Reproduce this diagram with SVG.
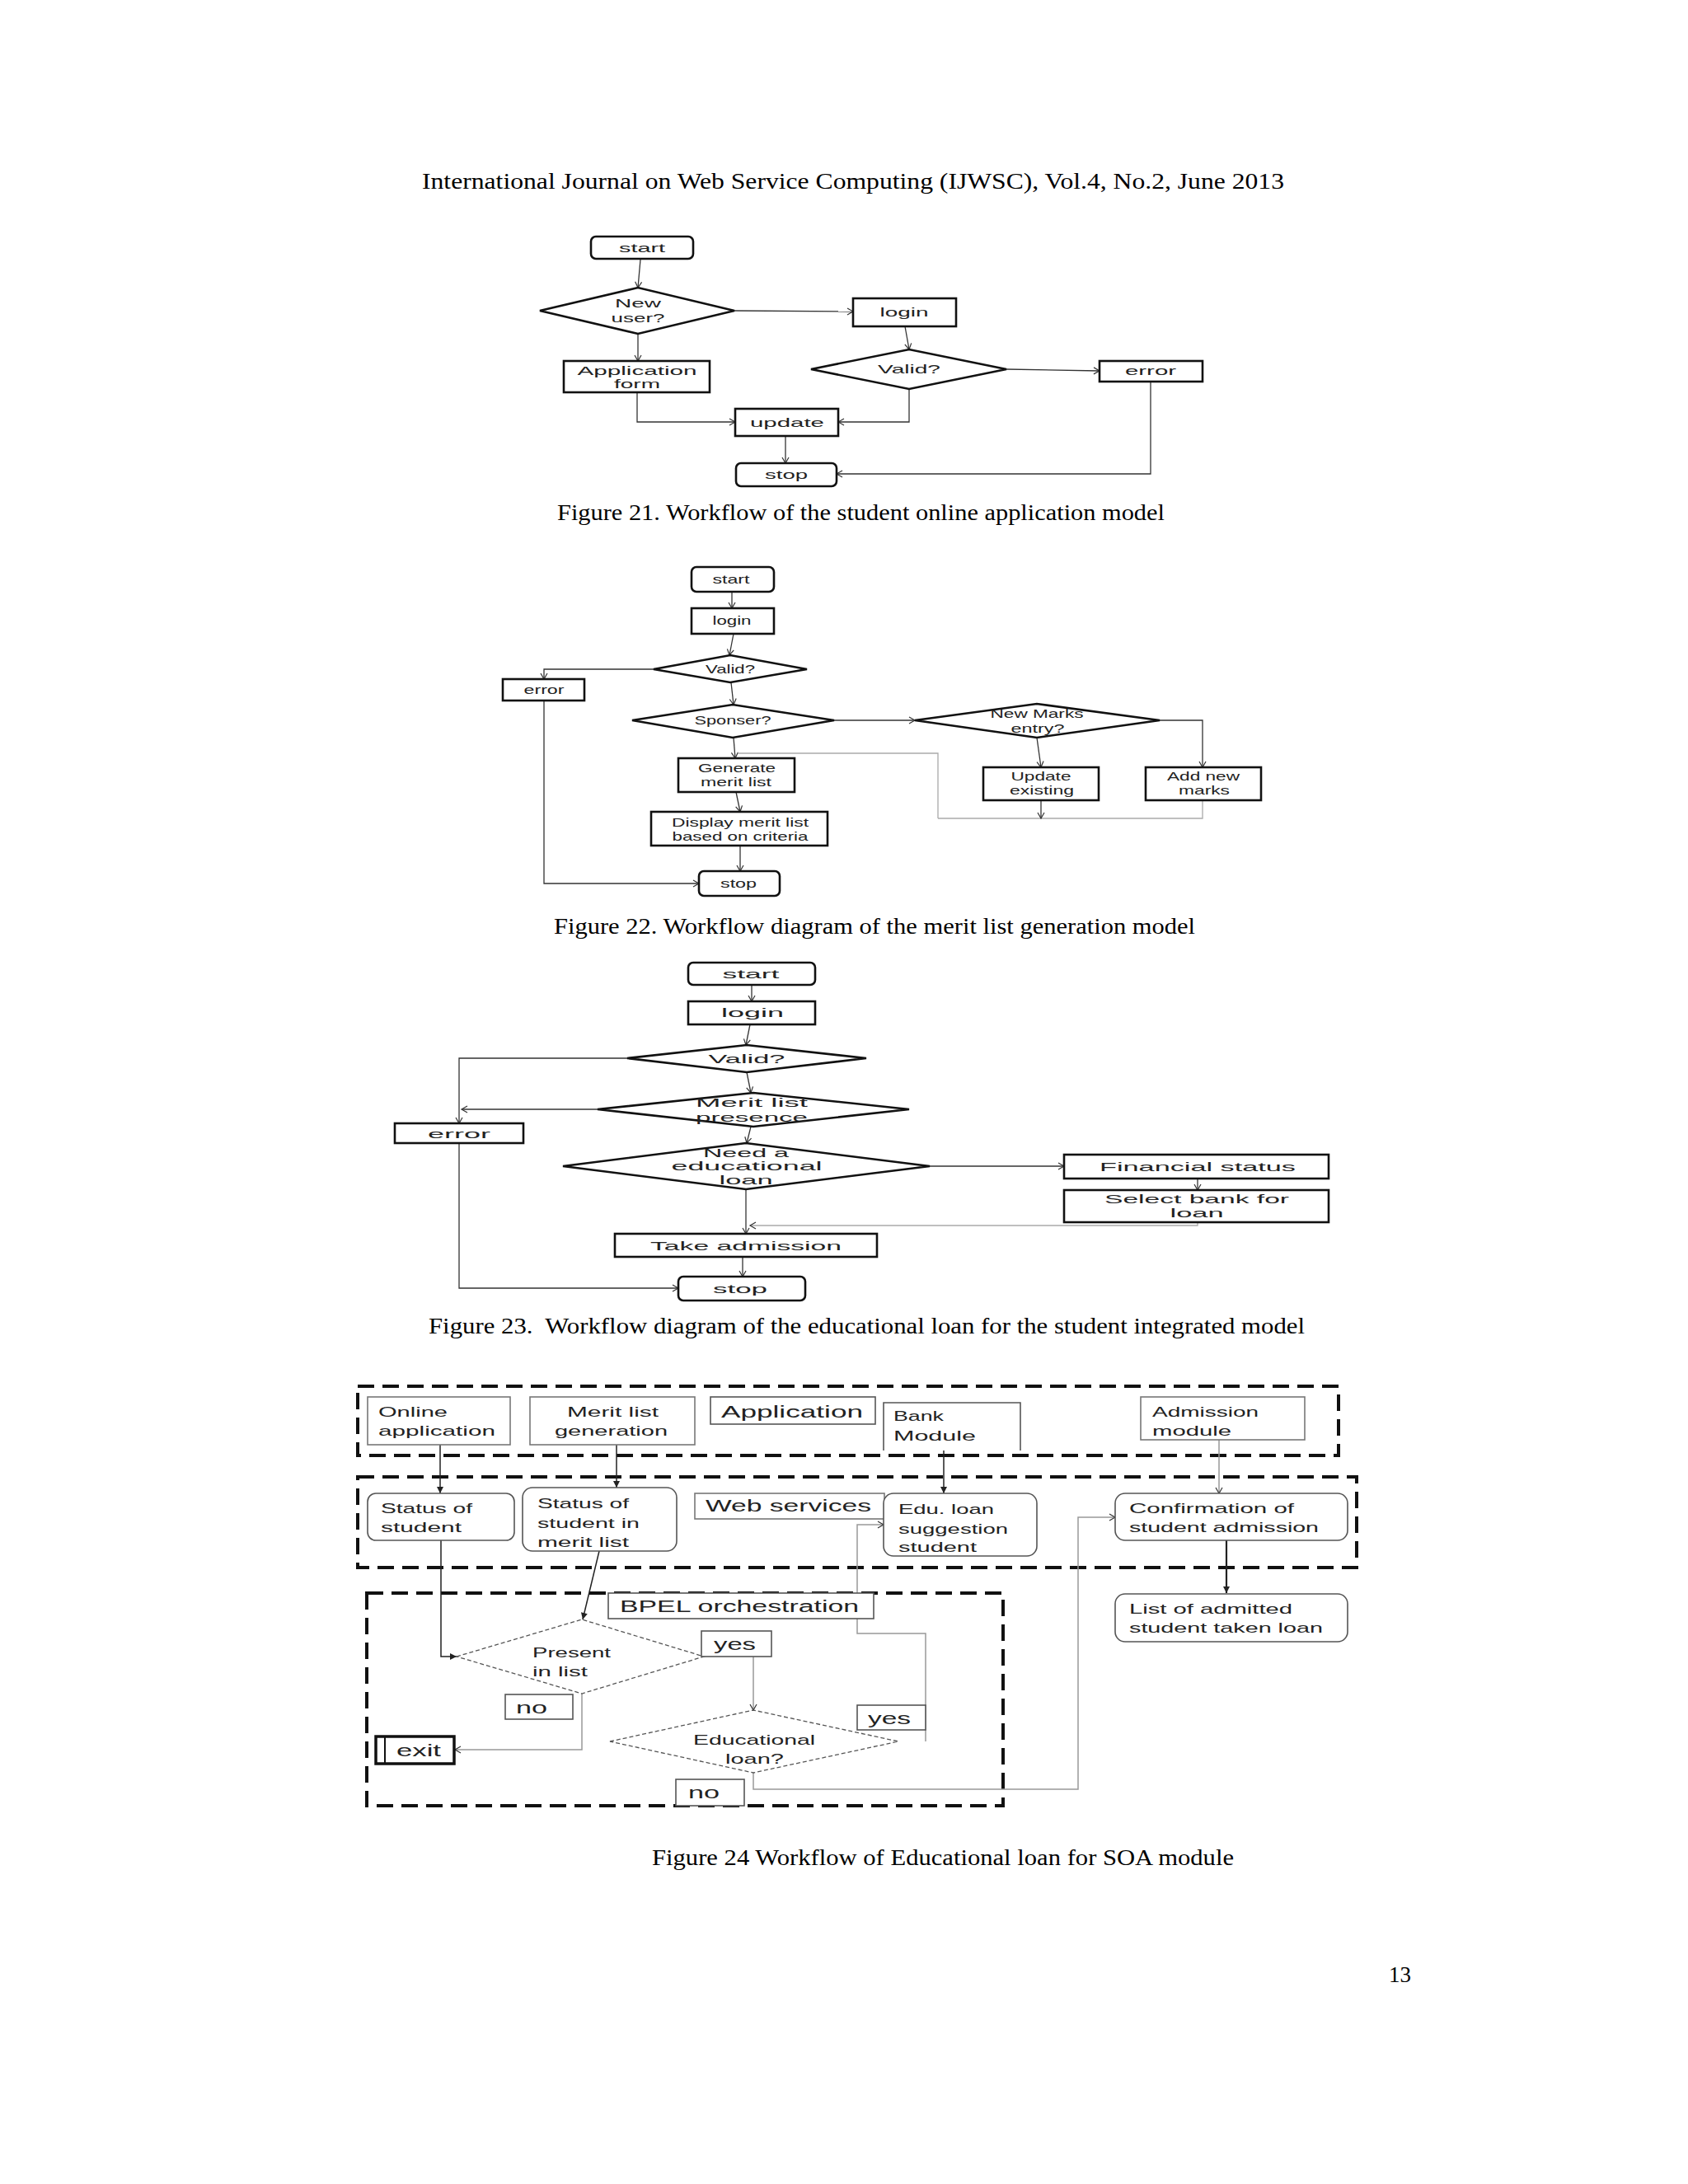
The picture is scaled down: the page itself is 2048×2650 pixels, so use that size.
<svg xmlns="http://www.w3.org/2000/svg" width="2048" height="2650" viewBox="0 0 2048 2650">
<style>
.bg{fill:#fff}
.b{fill:#fff;stroke:#111;stroke-width:2.6}
.d{fill:#fff;stroke:#111;stroke-width:2.6}
.c{fill:none;stroke:#333;stroke-width:1.3;marker-end:url(#oa)}
.cn{fill:none;stroke:#333;stroke-width:1.3}
.cl{fill:none;stroke:#aaa;stroke-width:1.3;marker-end:url(#oa)}
.cln{fill:none;stroke:#aaa;stroke-width:1.3}
.t{font-family:"Liberation Sans",Arial,sans-serif;font-size:15px;fill:#222;text-anchor:middle}
.t2{font-family:"Liberation Sans",Arial,sans-serif;font-size:17px;fill:#222}
.ser{font-family:"Liberation Serif","Times New Roman",serif;font-size:27px;fill:#000}
.g{fill:#fff;stroke:#777;stroke-width:1.6}
.gr{fill:#fff;stroke:#555;stroke-width:1.6}
.dash{fill:none;stroke:#111;stroke-width:4;stroke-dasharray:20 10}
.dd{fill:#fff;stroke:#555;stroke-width:1.3;stroke-dasharray:5 3}
.s{fill:none;stroke:#222;stroke-width:1.5;marker-end:url(#fa)}
.sl{fill:none;stroke:#999;stroke-width:1.5;marker-end:url(#oa)}
.sn{fill:none;stroke:#222;stroke-width:1.5}
</style>
<defs>
<marker id="oa" markerWidth="10" markerHeight="10" refX="8" refY="5" orient="auto" markerUnits="userSpaceOnUse"><path d="M1,1 L8,5 L1,9" fill="none" stroke="#333" stroke-width="1.2"/></marker>
<marker id="fa" markerWidth="12" markerHeight="12" refX="9" refY="6" orient="auto" markerUnits="userSpaceOnUse"><path d="M1,2 L9,6 L1,10 Z" fill="#222"/></marker>
</defs>
<rect class="bg" x="0" y="0" width="2048" height="2650"/>

<text class="ser" x="512" y="229" textLength="1046" lengthAdjust="spacingAndGlyphs">International Journal on Web Service Computing (IJWSC), Vol.4, No.2, June 2013</text>

<!-- Figure 21 -->
<g id="f21-connectors">
<path class="c" d="M777,315 L774,349"/>
<path class="c" d="M891,377 L1035,378"/>
<path class="c" d="M1098,396 L1103,424"/>
<path class="c" d="M1221,448 L1334,450"/>
<path class="c" d="M774,405 L774,438"/>
<path class="c" d="M773,476 V512 H892"/>
<path class="c" d="M1103,472 V512 H1017"/>
<path class="c" d="M953,529 V562"/>
<path class="c" d="M1396,463 V575 H1015"/>
</g>
<g id="f21-start"><rect class="b" x="717" y="287" width="124" height="27" rx="6"/><text class="t" x="779" y="306" textLength="56" lengthAdjust="spacingAndGlyphs">start</text></g>
<g id="f21-newuser"><polygon class="d" points="655,377 774,349 891,377 774,405"/><text class="t" x="774" y="373" textLength="56" lengthAdjust="spacingAndGlyphs">New</text><text class="t" x="774" y="391" textLength="65" lengthAdjust="spacingAndGlyphs">user?</text></g>
<g id="f21-login"><rect class="b" x="1035" y="362" width="125" height="34"/><text class="t" x="1097" y="384" textLength="59" lengthAdjust="spacingAndGlyphs">login</text></g>
<g id="f21-valid"><polygon class="d" points="984,448 1103,424 1221,448 1103,472"/><text class="t" x="1103" y="453" textLength="76" lengthAdjust="spacingAndGlyphs">Valid?</text></g>
<g id="f21-error"><rect class="b" x="1334" y="438" width="125" height="25"/><text class="t" x="1396" y="455" textLength="62" lengthAdjust="spacingAndGlyphs">error</text></g>
<g id="f21-appform"><rect class="b" x="684" y="438" width="177" height="38"/><text class="t" x="773" y="455" textLength="145" lengthAdjust="spacingAndGlyphs">Application</text><text class="t" x="773" y="471" textLength="56" lengthAdjust="spacingAndGlyphs">form</text></g>
<g id="f21-update"><rect class="b" x="892" y="496" width="125" height="33"/><text class="t" x="955" y="518" textLength="90" lengthAdjust="spacingAndGlyphs">update</text></g>
<g id="f21-stop"><rect class="b" x="893" y="562" width="122" height="28" rx="6"/><text class="t" x="954" y="581" textLength="52" lengthAdjust="spacingAndGlyphs">stop</text></g>
<text class="ser" x="676" y="631" textLength="737" lengthAdjust="spacingAndGlyphs">Figure 21. Workflow of the student online application model</text>

<!-- Figure 22 -->
<g id="f22-connectors">
<path class="c" d="M888,718 V738"/>
<path class="c" d="M890,769 L885,795"/>
<path class="c" d="M793,812 H660 V824"/>
<path class="c" d="M660,850 V1072 H848"/>
<path class="c" d="M887,828 L890,855"/>
<path class="c" d="M1012,874 H1110"/>
<path class="c" d="M890,895 L892,920"/>
<path class="cln" d="M1138,993 V914 H895"/>
<path class="cln" d="M1263,993 H1459 V971"/>
<path class="cln" d="M1138,993 H1263"/>
<path class="c" d="M1263,971 V993"/>
<path class="c" d="M1258,895 L1263,931"/>
<path class="c" d="M1407,874 H1459 V931"/>
<path class="c" d="M893,961 L898,985"/>
<path class="c" d="M898,1026 V1057"/>
</g>
<g id="f22-start"><rect class="b" x="839" y="688" width="100" height="30" rx="6"/><text class="t" x="887" y="708" textLength="45" lengthAdjust="spacingAndGlyphs">start</text></g>
<g id="f22-login"><rect class="b" x="839" y="738" width="100" height="31"/><text class="t" x="888" y="758" textLength="47" lengthAdjust="spacingAndGlyphs">login</text></g>
<g id="f22-valid"><polygon class="d" points="793,812 886,795 979,812 886,828"/><text class="t" x="886" y="817" textLength="60" lengthAdjust="spacingAndGlyphs">Valid?</text></g>
<g id="f22-error"><rect class="b" x="610" y="824" width="99" height="26"/><text class="t" x="660" y="842" textLength="49" lengthAdjust="spacingAndGlyphs">error</text></g>
<g id="f22-sponser"><polygon class="d" points="767,874 889,855 1012,874 889,895"/><text class="t" x="889" y="879" textLength="93" lengthAdjust="spacingAndGlyphs">Sponser?</text></g>
<g id="f22-newmarks"><polygon class="d" points="1110,874 1258,854 1407,874 1258,895"/><text class="t" x="1258" y="871" textLength="113" lengthAdjust="spacingAndGlyphs">New Marks</text><text class="t" x="1259" y="889" textLength="65" lengthAdjust="spacingAndGlyphs">entry?</text></g>
<g id="f22-generate"><rect class="b" x="823" y="920" width="141" height="41"/><text class="t" x="894" y="937" textLength="94" lengthAdjust="spacingAndGlyphs">Generate</text><text class="t" x="893" y="954" textLength="86" lengthAdjust="spacingAndGlyphs">merit list</text></g>
<g id="f22-update"><rect class="b" x="1193" y="931" width="140" height="40"/><text class="t" x="1263" y="947" textLength="73" lengthAdjust="spacingAndGlyphs">Update</text><text class="t" x="1264" y="964" textLength="78" lengthAdjust="spacingAndGlyphs">existing</text></g>
<g id="f22-addnew"><rect class="b" x="1390" y="931" width="140" height="40"/><text class="t" x="1460" y="947" textLength="88" lengthAdjust="spacingAndGlyphs">Add new</text><text class="t" x="1461" y="964" textLength="62" lengthAdjust="spacingAndGlyphs">marks</text></g>
<g id="f22-display"><rect class="b" x="790" y="985" width="214" height="41"/><text class="t" x="898" y="1003" textLength="166" lengthAdjust="spacingAndGlyphs">Display merit list</text><text class="t" x="898" y="1020" textLength="165" lengthAdjust="spacingAndGlyphs">based on criteria</text></g>
<g id="f22-stop"><rect class="b" x="848" y="1057" width="98" height="30" rx="6"/><text class="t" x="896" y="1077" textLength="44" lengthAdjust="spacingAndGlyphs">stop</text></g>
<text class="ser" x="672" y="1133" textLength="778" lengthAdjust="spacingAndGlyphs">Figure 22. Workflow diagram of the merit list generation model</text>

<!-- Figure 23 -->
<g id="f23-connectors">
<path class="c" d="M912,1195 V1215"/>
<path class="c" d="M910,1243 L905,1268"/>
<path class="c" d="M761,1284 H557 V1363"/>
<path class="c" d="M906,1301 L911,1326"/>
<path class="c" d="M725,1346 H560"/>
<path class="c" d="M557,1387 V1563 H823"/>
<path class="c" d="M911,1367 L906,1387"/>
<path class="c" d="M1128,1415 H1291"/>
<path class="c" d="M1453,1430 V1444"/>
<path class="cl" d="M1453,1483 V1487 H910"/>
<path class="c" d="M905,1443 V1497"/>
<path class="c" d="M901,1525 V1549"/>
</g>
<g id="f23-start"><rect class="b" x="835" y="1168" width="154" height="27" rx="6"/><text class="t" x="911" y="1187" textLength="69" lengthAdjust="spacingAndGlyphs">start</text></g>
<g id="f23-login"><rect class="b" x="835" y="1215" width="154" height="28"/><text class="t" x="913" y="1234" textLength="76" lengthAdjust="spacingAndGlyphs">login</text></g>
<g id="f23-valid"><polygon class="d" points="761,1284 906,1268 1051,1284 906,1301"/><text class="t" x="906" y="1290" textLength="93" lengthAdjust="spacingAndGlyphs">Valid?</text></g>
<g id="f23-merit"><polygon class="d" points="725,1346 914,1326 1103,1346 914,1367"/><text class="t" x="912" y="1343" textLength="136" lengthAdjust="spacingAndGlyphs">Merit list</text><text class="t" x="912" y="1361" textLength="136" lengthAdjust="spacingAndGlyphs">presence</text></g>
<g id="f23-error"><rect class="b" x="479" y="1363" width="156" height="24"/><text class="t" x="557" y="1381" textLength="76" lengthAdjust="spacingAndGlyphs">error</text></g>
<g id="f23-need"><polygon class="d" points="683,1415 905,1387 1128,1415 905,1443"/><text class="t" x="905" y="1404" textLength="104" lengthAdjust="spacingAndGlyphs">Need a</text><text class="t" x="906" y="1420" textLength="183" lengthAdjust="spacingAndGlyphs">educational</text><text class="t" x="905" y="1437" textLength="65" lengthAdjust="spacingAndGlyphs">loan</text></g>
<g id="f23-financial"><rect class="b" x="1291" y="1401" width="321" height="29"/><text class="t" x="1453" y="1421" textLength="238" lengthAdjust="spacingAndGlyphs">Financial status</text></g>
<g id="f23-select"><rect class="b" x="1291" y="1444" width="321" height="39"/><text class="t" x="1452" y="1460" textLength="224" lengthAdjust="spacingAndGlyphs">Select bank for</text><text class="t" x="1452" y="1477" textLength="65" lengthAdjust="spacingAndGlyphs">loan</text></g>
<g id="f23-take"><rect class="b" x="746" y="1497" width="318" height="28"/><text class="t" x="905" y="1517" textLength="232" lengthAdjust="spacingAndGlyphs">Take admission</text></g>
<g id="f23-stop"><rect class="b" x="823" y="1549" width="154" height="29" rx="6"/><text class="t" x="898" y="1569" textLength="66" lengthAdjust="spacingAndGlyphs">stop</text></g>
<text class="ser" x="520" y="1618" textLength="1063" lengthAdjust="spacingAndGlyphs" xml:space="preserve">Figure 23.  Workflow diagram of the educational loan for the student integrated model</text>

<!-- Figure 24 -->
<g id="f24-containers">
<rect class="dash" x="434" y="1682" width="1190" height="84"/>
<rect class="dash" x="434" y="1792" width="1212" height="110"/>
<rect class="dash" x="445" y="1933" width="772" height="258"/>
</g>
<g id="f24-connectors">
<path class="s" d="M534,1753 V1812"/>
<path class="s" d="M748,1753 V1805"/>
<path class="s" d="M1145,1760 V1812"/>
<path class="sl" d="M1479,1747 V1812"/>
<path class="s" d="M1488,1869 V1933" style="stroke-width:2.2"/>
<path class="s" d="M535,1869 V2010 H554"/>
<path class="s" d="M727,1882 L707,1965"/>
<path class="sl" d="M914,2010 V2075"/>
<path class="sl" d="M706,2055 V2123 H552"/>
<path class="sl" d="M1123,2113 V1982 H1040 V1850 H1072"/>
<path class="sl" d="M914,2151 V2171 H1308 V1841 H1353"/>
</g>
<g id="f24-online"><rect class="g" x="446" y="1695" width="173" height="58"/><text class="t2" x="459" y="1719" textLength="84" lengthAdjust="spacingAndGlyphs">Online</text><text class="t2" x="459" y="1742" textLength="142" lengthAdjust="spacingAndGlyphs">application</text></g>
<g id="f24-meritgen"><rect class="g" x="643" y="1695" width="200" height="58"/><text class="t2" x="688" y="1719" textLength="111" lengthAdjust="spacingAndGlyphs">Merit list</text><text class="t2" x="673" y="1742" textLength="137" lengthAdjust="spacingAndGlyphs">generation</text></g>
<g id="f24-application"><rect class="gr" x="862" y="1695" width="200" height="33"/><text class="t2" x="875" y="1720" textLength="172" lengthAdjust="spacingAndGlyphs" style="font-size:21px">Application</text></g>
<g id="f24-bank"><path class="gr" d="M1072,1760 V1702 H1238 V1760"/><text class="t2" x="1084" y="1724" textLength="61" lengthAdjust="spacingAndGlyphs">Bank</text><text class="t2" x="1084" y="1748" textLength="100" lengthAdjust="spacingAndGlyphs">Module</text></g>
<g id="f24-admission"><rect class="g" x="1384" y="1695" width="199" height="52"/><text class="t2" x="1398" y="1719" textLength="129" lengthAdjust="spacingAndGlyphs">Admission</text><text class="t2" x="1398" y="1742" textLength="96" lengthAdjust="spacingAndGlyphs">module</text></g>
<g id="f24-status"><rect class="gr" x="446" y="1812" width="178" height="57" rx="10"/><text class="t2" x="462" y="1836" textLength="111" lengthAdjust="spacingAndGlyphs">Status of</text><text class="t2" x="462" y="1859" textLength="98" lengthAdjust="spacingAndGlyphs">student</text></g>
<g id="f24-statusmerit"><rect class="gr" x="634" y="1805" width="187" height="77" rx="12"/><text class="t2" x="652" y="1830" textLength="111" lengthAdjust="spacingAndGlyphs">Status of</text><text class="t2" x="652" y="1854" textLength="124" lengthAdjust="spacingAndGlyphs">student in</text><text class="t2" x="652" y="1877" textLength="111" lengthAdjust="spacingAndGlyphs">merit list</text></g>
<g id="f24-webservices"><rect class="g" x="843" y="1812" width="230" height="31"/><text class="t2" x="856" y="1834" textLength="201" lengthAdjust="spacingAndGlyphs" style="font-size:20px">Web services</text></g>
<g id="f24-eduloan"><rect class="gr" x="1072" y="1812" width="186" height="76" rx="12"/><text class="t2" x="1090" y="1837" textLength="116" lengthAdjust="spacingAndGlyphs">Edu. loan</text><text class="t2" x="1090" y="1861" textLength="133" lengthAdjust="spacingAndGlyphs">suggestion</text><text class="t2" x="1090" y="1883" textLength="95" lengthAdjust="spacingAndGlyphs">student</text></g>
<g id="f24-confirm"><rect class="gr" x="1353" y="1812" width="282" height="57" rx="12"/><text class="t2" x="1370" y="1836" textLength="200" lengthAdjust="spacingAndGlyphs">Confirmation of</text><text class="t2" x="1370" y="1859" textLength="230" lengthAdjust="spacingAndGlyphs">student admission</text></g>
<g id="f24-list"><rect class="gr" x="1353" y="1934" width="282" height="58" rx="12"/><text class="t2" x="1370" y="1958" textLength="198" lengthAdjust="spacingAndGlyphs">List of admitted</text><text class="t2" x="1370" y="1981" textLength="235" lengthAdjust="spacingAndGlyphs">student taken loan</text></g>
<g id="f24-bpel"><rect class="gr" x="738" y="1933" width="322" height="31"/><text class="t2" x="752" y="1956" textLength="290" lengthAdjust="spacingAndGlyphs" style="font-size:20px">BPEL orchestration</text></g>
<g id="f24-present"><polygon class="dd" points="554,2010 706,1965 854,2010 706,2055"/><text class="t2" x="646" y="2011" textLength="95" lengthAdjust="spacingAndGlyphs">Present</text><text class="t2" x="646" y="2034" textLength="67" lengthAdjust="spacingAndGlyphs">in list</text></g>
<g id="f24-yes1"><rect class="gr" x="851" y="1979" width="85" height="31"/><text class="t2" x="866" y="2002" textLength="51" lengthAdjust="spacingAndGlyphs" style="font-size:20px">yes</text></g>
<g id="f24-no1"><rect class="gr" x="613" y="2056" width="82" height="30"/><text class="t2" x="626" y="2079" textLength="38" lengthAdjust="spacingAndGlyphs" style="font-size:20px">no</text></g>
<g id="f24-exit"><rect x="456" y="2107" width="95" height="33" fill="#fff" stroke="#111" stroke-width="3.5"/><line x1="467" y1="2107" x2="467" y2="2140" stroke="#111" stroke-width="2"/><text class="t2" x="481" y="2131" textLength="54" lengthAdjust="spacingAndGlyphs" style="font-size:20px">exit</text></g>
<g id="f24-eduq"><polygon class="dd" points="740,2113 914,2075 1090,2113 914,2151"/><text class="t2" x="841" y="2117" textLength="148" lengthAdjust="spacingAndGlyphs">Educational</text><text class="t2" x="880" y="2140" textLength="71" lengthAdjust="spacingAndGlyphs">loan?</text></g>
<g id="f24-yes2"><rect class="gr" x="1040" y="2069" width="83" height="30"/><text class="t2" x="1053" y="2092" textLength="52" lengthAdjust="spacingAndGlyphs" style="font-size:20px">yes</text></g>
<g id="f24-no2"><rect class="gr" x="820" y="2159" width="83" height="32"/><text class="t2" x="835" y="2182" textLength="38" lengthAdjust="spacingAndGlyphs" style="font-size:20px">no</text></g>
<text class="ser" x="791" y="2263" textLength="706" lengthAdjust="spacingAndGlyphs">Figure 24 Workflow of Educational loan for SOA module</text>
<text class="ser" x="1685" y="2405">13</text>
</svg>
